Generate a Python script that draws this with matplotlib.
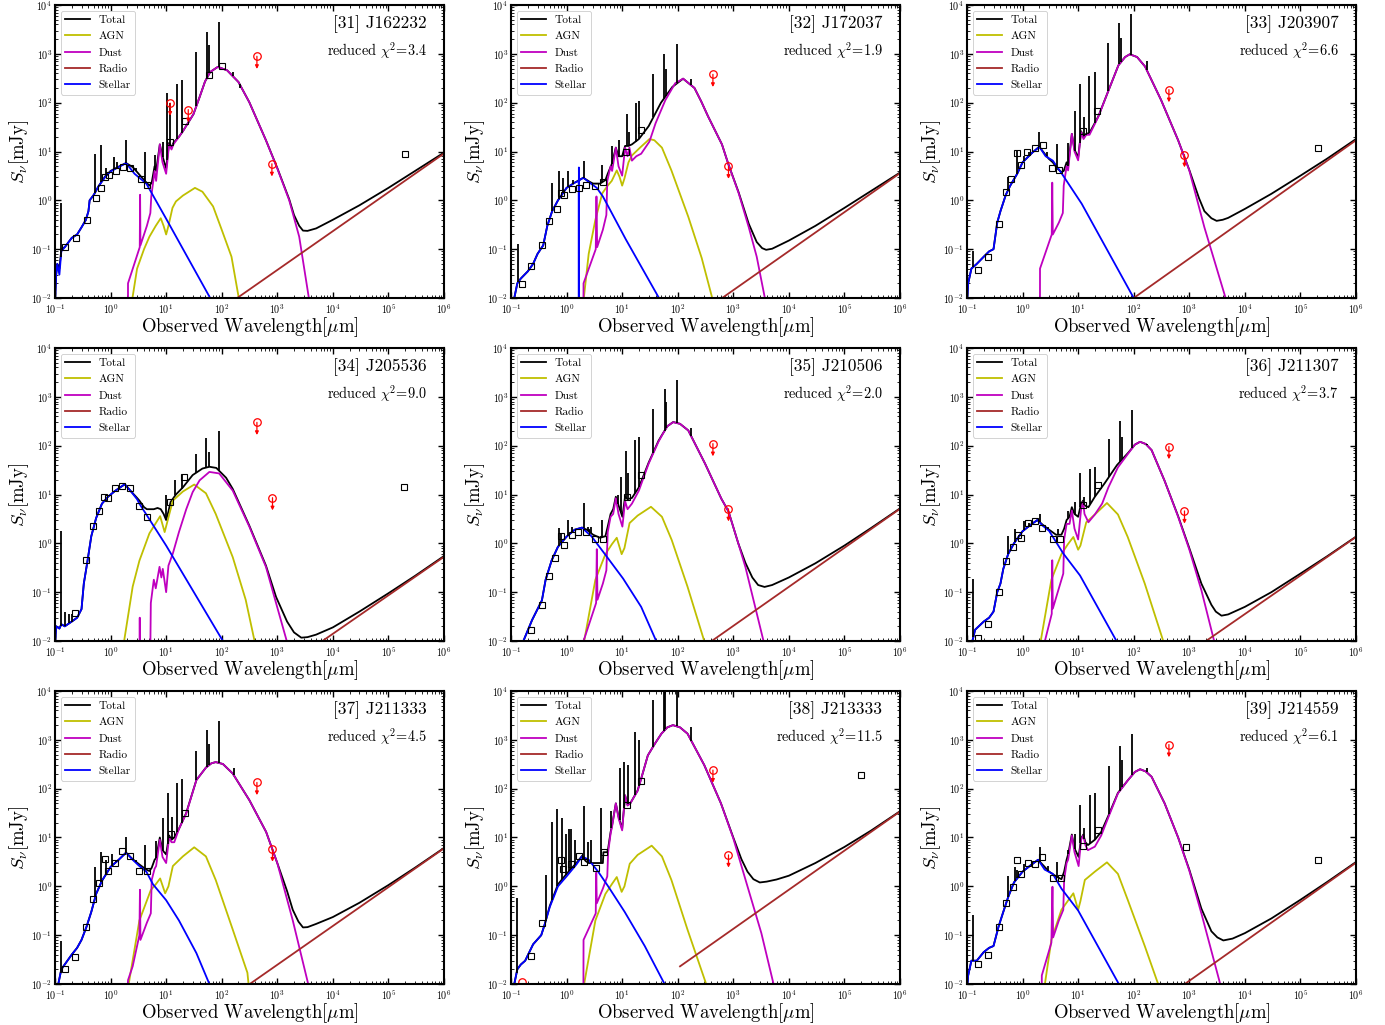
import numpy as np
import matplotlib
matplotlib.use("Agg")
import matplotlib.pyplot as plt
from matplotlib.ticker import LogLocator, NullFormatter

plt.rcParams.update({
    "font.family": "cmr10",
    "mathtext.fontset": "cm",
    "axes.unicode_minus": False,
    "axes.formatter.use_mathtext": True,
})

# ---------------------------------------------------------------------------
# SED fits: (wavelength [um], flux density [mJy]) pairs for each component
# ---------------------------------------------------------------------------
PANEL_IDS = [31, 32, 33, 34, 35, 36, 37, 38, 39]
PANEL_NAMES = ["J162232", "J172037", "J203907", "J205536", "J210506",
               "J211307", "J211333", "J213333", "J214559"]
REDUCED_CHI2 = [3.4, 1.9, 6.6, 9.0, 2.0, 3.7, 4.5, 11.5, 6.1]

# decade ticks of both axes
X_DECADES = [-1, 0, 1, 2, 3, 4, 5, 6]
Y_DECADES = [-2, -1, 0, 1, 2, 3, 4]

# --- [31] J162232 ---
J162232_TOTAL = [(0.1, 0.008), (0.105, 0.03), (0.11, 0.05), (0.12, 0.04), (0.13, 0.1), (0.15, 0.11),
                 (0.2, 0.17), (0.25, 0.2), (0.3, 0.28), (0.36, 0.4), (0.4, 0.6), (0.42, 1.0), (0.5, 1.3),
                 (0.6, 1.9), (0.8, 3.1), (1.0, 4.0), (1.4, 4.9), (1.9, 5.8), (2.5, 4.8), (3.0, 3.8),
                 (4.0, 2.6), (5.0, 2.0), (5.5, 2.3), (6.2, 5), (6.6, 4), (7.7, 14), (8.6, 8), (10, 4.5),
                 (11.3, 15), (12.5, 12), (13.5, 15), (17, 20), (20, 26), (31, 58), (40, 130), (50, 270),
                 (62, 425), (85, 540), (125, 460), (200, 265), (314, 102), (625, 17), (1000, 4.6),
                 (1640, 1.05), (2000, 0.5), (2480, 0.3), (2900, 0.24), (3500, 0.237), (5000, 0.266),
                 (1e4, 0.4), (3e4, 0.79), (1e5, 1.8), (3e5, 3.98), (1e6, 9.5)]
J162232_AGN = [(2.4, 0.008), (3, 0.04), (4, 0.1), (5, 0.18), (6.5, 0.3), (8, 0.43), (9, 0.3), (10, 0.2),
               (11, 0.3), (13, 0.7), (15, 0.95), (20, 1.25), (33, 1.8), (45, 1.5), (70, 0.75),
               (100, 0.25), (150, 0.07), (210, 0.008)]
J162232_DUST = [(2.05, 0.001), (2.06, 0.02), (3.35, 0.11), (3.4, 1.3), (3.45, 0.12), (4.5, 0.3),
                (5.2, 0.55), (5.4, 1.2), (6.2, 4), (6.6, 2.5), (7.7, 14), (8.6, 6), (10, 3.5), (11.3, 14),
                (12.5, 11), (13.5, 14), (17, 20), (20, 26), (31, 58), (40, 130), (50, 270), (62, 425),
                (85, 540), (125, 460), (200, 265), (314, 102), (625, 17), (1000, 4.5), (1640, 1.0),
                (2480, 0.18), (3700, 0.01), (4000, 0.004)]
J162232_RADIO = [(190, 0.01), (1e6, 9.1)]
J162232_STELLAR = [(0.1, 0.008), (0.105, 0.03), (0.11, 0.05), (0.12, 0.03), (0.13, 0.09), (0.15, 0.11),
                   (0.2, 0.17), (0.25, 0.2), (0.3, 0.28), (0.36, 0.4), (0.4, 0.6), (0.42, 1.0), (0.5, 1.3),
                   (0.6, 1.9), (0.8, 3.0), (1.0, 3.9), (1.4, 4.8), (1.9, 5.8), (2.7, 3.5), (4.4, 2.2),
                   (10, 0.42), (62, 0.01), (70, 0.007)]
J162232_LINES = [(0.126, 0.9), (0.52, 9.1), (0.68, 13.6), (0.83, 4.5), (1.13, 7.8), (1.3, 6.0), (1.9, 17),
                 (2.9, 4.5), (4.1, 10), (6.4, 8.5), (8.7, 16), (10.4, 158), (11.8, 100), (15.8, 245),
                 (19, 290), (35, 1090), (54, 2800), (60, 1500), (90, 4500), (160, 420), (210, 200)]
J162232_PHOT = [(0.15, 0.11), (0.235, 0.17), (0.37, 0.4), (0.55, 1.1), (0.66, 1.8), (0.8, 3.0),
                (0.92, 3.3), (1.25, 4.0), (1.65, 4.8), (2.2, 4.7), (3.5, 2.7), (4.5, 2.1), (11.8, 15.7),
                (22.3, 42), (58, 374), (100, 555), (2.0e5, 9.0)]
J162232_ULIM = [(11.8, 98), (25, 72), (430, 890), (800, 5.6)]

# --- [32] J172037 ---
J172037_TOTAL = [(0.11, 0.008), (0.13, 0.02), (0.15, 0.025), (0.2, 0.035), (0.25, 0.05), (0.3, 0.08),
                 (0.38, 0.12), (0.45, 0.3), (0.55, 0.6), (0.7, 1.0), (1.0, 1.8), (1.4, 2.3), (2.0, 2.9),
                 (2.6, 2.4), (3.0, 2.2), (4.0, 2.2), (5.0, 2.6), (5.5, 3.5), (6.5, 5.5), (7.7, 12),
                 (8.6, 8), (10, 8), (11.3, 13), (13, 13), (15, 14), (20, 18), (30, 33), (50, 100),
                 (80, 210), (125, 310), (200, 200), (266, 105), (350, 53), (625, 14), (820, 5.4),
                 (1250, 1.45), (1900, 0.33), (2640, 0.14), (3300, 0.105), (3900, 0.097), (5000, 0.102),
                 (1e4, 0.15), (3e4, 0.3), (1e5, 0.7), (3e5, 1.55), (1e6, 3.7)]
J172037_AGN = [(2.0, 0.008), (2.5, 0.08), (3.3, 0.4), (4.4, 1.4), (5.5, 2.0), (6.5, 2.5), (8.0, 4.1),
               (9, 3.0), (10, 2.0), (11, 2.8), (13, 6), (15, 8.3), (21, 12), (31, 18), (38, 17),
               (52, 12), (77, 4.1), (155, 0.46), (270, 0.066), (440, 0.008)]
J172037_DUST = [(2.0, 0.001), (2.02, 0.02), (3.35, 0.1), (3.45, 1.2), (3.55, 0.11), (4.5, 0.25),
                (5.2, 0.5), (5.4, 2.5), (6.2, 5), (6.6, 4), (7.7, 12), (8.6, 5), (10, 3.2), (11.3, 12),
                (12.5, 8), (13.5, 12), (15, 6.5), (18, 8), (22, 9), (31, 16), (40, 38), (60, 113),
                (90, 250), (125, 310), (200, 200), (266, 105), (350, 53), (625, 14), (820, 5.4),
                (1250, 1.4), (1900, 0.28), (2640, 0.07), (3700, 0.01), (4200, 0.004)]
J172037_RADIO = [(630, 0.01), (1e6, 3.6)]
J172037_STELLAR = [(0.11, 0.008), (0.13, 0.02), (0.15, 0.025), (0.2, 0.035), (0.25, 0.05), (0.3, 0.08),
                   (0.38, 0.12), (0.45, 0.3), (0.55, 0.6), (0.7, 1.0), (1.0, 1.8), (1.4, 2.3),
                   (1.655, 2.5), (1.66, 0.001), (1.665, 4.7), (1.67, 2.55), (2.0, 2.9), (2.6, 2.3),
                   (3.5, 1.8), (4.5, 1.2), (5.7, 0.73), (11.6, 0.16), (46, 0.01), (50, 0.008)]
J172037_LINES = [(0.135, 0.13), (0.55, 2.3), (0.73, 4.0), (0.87, 2.8), (1.04, 4.0), (1.3, 2.6), (2.1, 6.5),
                 (4.4, 5.2), (6.5, 13), (8.7, 17), (12, 60), (13.2, 25), (17.5, 97), (20, 110),
                 (36.5, 380), (57, 1000), (61, 490), (98, 1600), (170, 310)]
J172037_PHOT = [(0.155, 0.019), (0.23, 0.046), (0.355, 0.12), (0.49, 0.37), (0.66, 0.68), (0.79, 1.43),
                (0.9, 1.3), (1.27, 1.73), (1.65, 1.8), (2.2, 2.1), (3.3, 2.0), (4.5, 2.4), (11.8, 10),
                (21.5, 27)]
J172037_ULIM = [(430, 380), (820, 5.0)]

# --- [33] J203907 ---
J203907_TOTAL = [(0.1, 0.008), (0.105, 0.02), (0.12, 0.04), (0.15, 0.05), (0.2, 0.07), (0.25, 0.09),
                 (0.3, 0.1), (0.35, 0.35), (0.4, 0.6), (0.5, 1.3), (0.6, 2.0), (0.8, 3.5), (1.0, 6.0),
                 (1.5, 9.5), (2.0, 12.5), (2.6, 8.5), (3.0, 7), (3.5, 6), (4.2, 4.5), (5.0, 3.8),
                 (5.5, 4.0), (6.2, 6), (6.6, 5), (7.7, 23), (8.6, 11), (10, 7.5), (11.3, 26), (12.5, 20),
                 (14, 23), (16, 24), (23, 52), (35, 175), (53, 580), (70, 860), (85, 980), (115, 860),
                 (160, 550), (310, 114), (630, 17), (1000, 4.2), (1500, 1.1), (1870, 0.6), (2500, 0.43),
                 (3100, 0.38), (4000, 0.4), (5000, 0.437), (1e4, 0.667), (3e4, 1.36), (1e5, 3.2),
                 (3e5, 7.1), (1e6, 18)]
J203907_AGN = []
J203907_DUST = [(2.05, 0.001), (2.06, 0.04), (3.35, 0.2), (3.42, 2.3), (3.5, 0.2), (4.5, 0.35),
                (5.3, 0.55), (5.5, 2.0), (6.2, 5), (6.6, 4.1), (7.7, 23), (8.6, 10), (10, 6.6), (11.3, 25),
                (12.5, 18), (14, 22), (16, 22), (23, 51), (35, 175), (53, 580), (70, 860), (85, 980),
                (115, 860), (160, 550), (310, 114), (630, 17), (1000, 4.1), (1870, 0.28), (4500, 0.01),
                (5000, 0.004)]
J203907_RADIO = [(100, 0.01), (1e6, 17)]
J203907_STELLAR = [(0.1, 0.008), (0.105, 0.02), (0.12, 0.04), (0.15, 0.05), (0.2, 0.07), (0.25, 0.09),
                   (0.3, 0.1), (0.35, 0.35), (0.4, 0.6), (0.5, 1.3), (0.6, 2.0), (0.8, 3.5), (1.0, 6.0),
                   (1.5, 9.5), (2.0, 12.5), (2.6, 8), (3.5, 6.5), (5.1, 3.5), (11.6, 0.85), (100, 0.01),
                   (110, 0.008)]
J203907_LINES = [(0.13, 0.09), (0.54, 3), (0.8, 10.5), (1.04, 8), (1.3, 10), (1.95, 25), (2.7, 10),
                 (4.2, 14.5), (6.6, 15), (8.8, 67), (10.7, 240), (13, 52), (16, 360), (20, 420),
                 (35, 1650), (55, 4200), (60, 2100), (90, 6400), (170, 700)]
J203907_PHOT = [(0.16, 0.037), (0.24, 0.068), (0.37, 0.32), (0.5, 1.5), (0.63, 2.7), (0.79, 9.3),
                (0.93, 5.3), (1.2, 10), (1.66, 12), (2.3, 13.5), (3.4, 4.6), (4.6, 4.1), (12.2, 26),
                (22, 67), (2.1e5, 12)]
J203907_ULIM = [(430, 185), (820, 8.6)]

# --- [34] J205536 ---
J205536_TOTAL = [(0.1, 0.008), (0.105, 0.02), (0.12, 0.018), (0.13, 0.022), (0.15, 0.02), (0.2, 0.025),
                 (0.25, 0.03), (0.3, 0.045), (0.33, 0.15), (0.38, 0.4), (0.45, 1.4), (0.55, 3.3),
                 (0.7, 6.5), (0.9, 9), (1.2, 11.8), (1.8, 16.2), (2.2, 12.5), (3.0, 8.5), (3.3, 7.5),
                 (4, 5.5), (4.5, 5.0), (6, 5.0), (7, 5.3), (8, 5.0), (9, 4.0), (10, 3.0), (11, 4.5),
                 (12, 7), (15, 10), (20, 14), (30, 25), (45, 34), (60, 37), (80, 35), (120, 22),
                 (158, 13), (314, 2.3), (625, 0.35), (950, 0.08), (1500, 0.025), (2000, 0.015),
                 (2700, 0.0117), (3500, 0.012), (5000, 0.0135), (1e4, 0.019), (3e4, 0.04), (1e5, 0.095),
                 (3e5, 0.215), (1e6, 0.55)]
J205536_AGN = [(1.7, 0.008), (2.5, 0.13), (3.3, 0.44), (5, 1.6), (7.8, 3.6), (9.4, 1.7), (13.2, 7.5),
               (20, 11.5), (32, 16), (52, 10.6), (78, 4.0), (158, 0.52), (270, 0.07), (390, 0.01),
               (420, 0.007)]
J205536_DUST = [(3.3, 0.001), (3.35, 0.03), (3.4, 0.001), (5.1, 0.001), (5.3, 0.06), (6.0, 0.18),
                (6.5, 0.12), (7.6, 0.33), (8.2, 0.2), (8.7, 0.3), (10, 0.1), (11, 0.35), (13.2, 0.62),
                (17, 1.7), (23, 5.0), (30, 11.2), (40, 19.5), (60, 29), (90, 27), (158, 12), (314, 2.2),
                (625, 0.33), (950, 0.06), (1480, 0.01), (1600, 0.007)]
J205536_RADIO = [(6500, 0.01), (1e6, 0.53)]
J205536_STELLAR = [(0.1, 0.008), (0.105, 0.02), (0.12, 0.018), (0.13, 0.022), (0.15, 0.02), (0.2, 0.025),
                   (0.25, 0.03), (0.3, 0.045), (0.33, 0.15), (0.38, 0.4), (0.45, 1.4), (0.55, 3.3),
                   (0.7, 6.5), (0.9, 9), (1.2, 11.8), (1.8, 16.2), (2.2, 12.5), (3.0, 8), (3.3, 6.5),
                   (10, 0.9), (105, 0.01), (115, 0.008)]
J205536_LINES = [(0.126, 1.8), (0.15, 0.04), (0.18, 0.035), (0.2, 0.035), (10, 9.6), (14.6, 19.5),
                 (19, 25), (34, 68), (52, 142), (58, 74), (88, 200)]
J205536_PHOT = [(0.225, 0.038), (0.355, 0.45), (0.49, 2.26), (0.62, 4.6), (0.75, 8.9), (0.9, 8.3),
                (1.21, 13.8), (1.62, 15.2), (2.2, 13.8), (3.3, 5.8), (4.5, 3.4), (11.8, 6.9), (21, 23),
                (1.9e5, 14)]
J205536_ULIM = [(430, 300), (820, 8.6)]

# --- [35] J210506 ---
J210506_TOTAL = [(0.16, 0.008), (0.167, 0.01), (0.24, 0.027), (0.36, 0.068), (0.42, 0.18), (0.54, 0.45),
                 (0.7, 0.85), (1.0, 1.37), (1.4, 1.9), (1.9, 2.1), (2.3, 1.9), (3, 1.5), (4, 1.3),
                 (5, 1.4), (5.5, 2.2), (6.2, 4), (6.9, 5), (7.7, 9), (8.6, 6), (10.1, 3.5), (11.3, 9),
                 (12.5, 8), (15, 8.5), (20, 14), (30, 45), (45, 125), (52, 165), (65, 250), (83, 305),
                 (110, 280), (155, 205), (310, 43), (610, 8.2), (820, 4.5), (1230, 1.0), (1650, 0.4),
                 (2200, 0.2), (2800, 0.14), (3650, 0.128), (5000, 0.14), (1e4, 0.2), (3e4, 0.39),
                 (1e5, 0.9), (3e5, 2.05), (1e6, 5.2)]
J210506_AGN = [(2.0, 0.008), (3.3, 0.18), (5, 0.6), (6.5, 0.95), (8.0, 1.3), (9.8, 0.6), (11, 0.8),
               (13.6, 2.6), (19, 3.7), (33, 5.6), (52, 3.5), (78, 1.17), (150, 0.13), (300, 0.01),
               (320, 0.007)]
J210506_DUST = [(2.0, 0.001), (2.02, 0.01), (3.4, 0.06), (3.5, 0.76), (3.6, 0.07), (4.5, 0.15),
                (5.2, 0.28), (5.5, 1.7), (6.2, 3.5), (6.9, 4.0), (7.7, 8.4), (8.6, 4), (10.1, 2.2),
                (11.3, 7.3), (12.5, 5), (15, 6.5), (20, 12), (30, 43), (45, 120), (52, 162), (65, 250),
                (83, 303), (110, 280), (155, 205), (310, 43), (610, 8.2), (820, 4.5), (1230, 1.0),
                (1650, 0.33), (3500, 0.01), (3800, 0.006)]
J210506_RADIO = [(410, 0.01), (1e6, 5.1)]
J210506_STELLAR = [(0.16, 0.008), (0.167, 0.01), (0.24, 0.027), (0.36, 0.068), (0.42, 0.18),
                   (0.54, 0.45), (0.7, 0.85), (1.0, 1.37), (1.4, 1.9), (1.9, 2.1), (2.3, 1.7), (2.8, 1.4),
                   (4.9, 0.6), (10.4, 0.19), (22, 0.05), (41, 0.01), (45, 0.008)]
J210506_LINES = [(0.72, 2.1), (0.8, 1.6), (1.05, 3.0), (1.27, 2.2), (2.05, 6.6), (2.4, 2.2), (2.8, 2.2),
                 (4.3, 3.0), (6.4, 4.1), (8.5, 9.7), (9.5, 23), (11.7, 76), (13, 28), (17, 130),
                 (20, 150), (36, 570), (58, 1450), (62, 770), (96, 2200), (175, 230)]
J210506_PHOT = [(0.23, 0.017), (0.355, 0.054), (0.49, 0.21), (0.63, 0.49), (0.79, 1.44), (0.91, 0.94),
                (1.27, 1.5), (1.6, 1.7), (2.2, 1.7), (3.3, 1.2), (4.6, 1.2), (12, 9.0), (21.6, 25)]
J210506_ULIM = [(430, 110), (820, 5.1)]

# --- [36] J211307 ---
J211307_TOTAL = [(0.12, 0.008), (0.125, 0.01), (0.14, 0.017), (0.2, 0.025), (0.25, 0.03), (0.3, 0.04),
                 (0.35, 0.1), (0.4, 0.15), (0.45, 0.3), (0.55, 0.6), (0.7, 1.0), (1.0, 1.77), (1.4, 2.4),
                 (1.85, 3.0), (2.3, 2.4), (3, 1.9), (4, 1.5), (5, 1.5), (5.6, 2.0), (6.2, 3.0), (7, 3.5),
                 (7.7, 5.5), (8.6, 4), (10, 3.5), (11.3, 6.5), (12.3, 7.5), (13, 6), (15.3, 5.5),
                 (20, 9), (30, 17), (50, 40), (80, 72), (105, 105), (130, 120), (165, 108), (210, 81),
                 (360, 19), (630, 3.6), (1000, 0.8), (1650, 0.15), (2500, 0.055), (3000, 0.04),
                 (3800, 0.033), (5000, 0.035), (1e4, 0.05), (3e4, 0.1), (1e5, 0.24), (3e5, 0.54),
                 (1e6, 1.37)]
J211307_AGN = [(2.05, 0.008), (3.3, 0.18), (5, 0.6), (6.5, 0.95), (8.2, 1.35), (10, 0.74), (11, 0.9),
               (14, 2.7), (20, 3.9), (33, 6.7), (52, 3.9), (78, 1.35), (158, 0.15), (340, 0.01),
               (360, 0.007)]
J211307_DUST = [(2.4, 0.008), (3.35, 0.036), (3.42, 0.45), (3.5, 0.046), (4.5, 0.12), (5.4, 0.24),
                (5.6, 1.2), (6.2, 2.5), (7, 2.5), (7.7, 4.7), (8.6, 2), (10, 1.2), (11.3, 5), (12.3, 7),
                (13, 4), (15.3, 2.7), (20, 3.9), (27, 6.5), (35, 14), (52, 36), (78, 67), (105, 105),
                (130, 120), (165, 108), (210, 81), (360, 19), (630, 3.5), (1000, 0.75), (1650, 0.11),
                (2800, 0.01), (3000, 0.007)]
J211307_RADIO = [(2000, 0.01), (1e6, 1.35)]
J211307_STELLAR = [(0.12, 0.008), (0.125, 0.01), (0.14, 0.017), (0.2, 0.025), (0.25, 0.03), (0.3, 0.04),
                   (0.35, 0.1), (0.4, 0.15), (0.45, 0.3), (0.55, 0.6), (0.7, 1.0), (1.0, 1.77),
                   (1.4, 2.4), (1.85, 3.0), (2.3, 2.3), (3, 1.8), (5.4, 0.62), (10.8, 0.22), (49, 0.01),
                   (53, 0.008)]
J211307_LINES = [(0.13, 0.19), (0.55, 1.4), (0.73, 2.0), (1.07, 2.8), (1.3, 2.6), (2.05, 4.0),
                 (2.9, 2.2), (4.4, 2.0), (6.6, 4.7), (8.8, 7), (11, 27), (13, 9), (16.5, 33), (20, 36),
                 (36, 140), (56, 315), (62, 150), (94, 530), (170, 110)]
J211307_PHOT = [(0.155, 0.0115), (0.236, 0.022), (0.37, 0.1), (0.5, 0.43), (0.66, 0.85), (0.82, 1.5),
                (0.95, 1.3), (1.25, 2.6), (1.68, 2.8), (2.2, 2.1), (3.5, 1.2), (4.7, 1.2), (12.3, 6.1),
                (23, 16)]
J211307_ULIM = [(430, 96), (820, 4.6)]

# --- [37] J211333 ---
J211333_TOTAL = [(0.11, 0.008), (0.13, 0.02), (0.2, 0.04), (0.25, 0.055), (0.3, 0.08), (0.37, 0.15),
                 (0.45, 0.3), (0.55, 0.7), (0.7, 1.3), (1.0, 2.5), (1.4, 3.5), (1.9, 4.9), (2.5, 3.6),
                 (3.3, 2.8), (4.4, 2.2), (5, 2.06), (5.5, 2.4), (6.2, 3.5), (6.6, 3.8), (7.7, 10),
                 (8.6, 5.5), (10, 4.5), (11.3, 11), (12.5, 9), (14, 10), (17, 15), (23, 32), (35, 150),
                 (52, 270), (65, 330), (78, 350), (105, 320), (158, 204), (315, 58), (630, 13),
                 (1000, 3.0), (1500, 0.8), (1900, 0.33), (2400, 0.19), (2900, 0.144), (3500, 0.146),
                 (5000, 0.17), (1e4, 0.235), (3e4, 0.46), (1e5, 1.06), (3e5, 2.4), (1e6, 6.1)]
J211333_AGN = [(2.05, 0.008), (3.3, 0.2), (5.3, 0.84), (6.5, 1.1), (7.8, 1.45), (9.6, 0.72), (11, 1.0),
               (13.2, 2.6), (20, 4.1), (32, 6.3), (52, 4.1), (78, 1.35), (158, 0.13), (290, 0.017),
               (310, 0.008)]
J211333_DUST = [(2.05, 0.001), (2.06, 0.012), (2.5, 0.023), (3.3, 0.1), (3.38, 0.85), (3.45, 0.08),
                (4.5, 0.18), (5.3, 0.28), (5.5, 1.35), (6.2, 2.3), (6.6, 2.6), (7.7, 9), (8.6, 4),
                (10, 3), (11.3, 10), (12.5, 8), (14, 8), (17, 15), (23, 31), (35, 150), (52, 270),
                (65, 330), (78, 350), (105, 320), (158, 204), (315, 58), (630, 13), (1000, 3.0),
                (1900, 0.2), (3600, 0.01), (3900, 0.006)]
J211333_RADIO = [(320, 0.01), (1e6, 6.0)]
J211333_STELLAR = [(0.11, 0.008), (0.13, 0.02), (0.2, 0.04), (0.25, 0.055), (0.3, 0.08), (0.37, 0.15),
                   (0.45, 0.3), (0.55, 0.7), (0.7, 1.3), (1.0, 2.5), (1.4, 3.5), (1.9, 4.9), (2.5, 3.5),
                   (3.3, 2.6), (4.4, 2.0), (5.8, 1.1), (10, 0.52), (17, 0.2), (35, 0.043), (60, 0.01),
                   (65, 0.008)]
J211333_LINES = [(0.126, 0.075), (0.53, 2.5), (0.68, 5), (0.84, 3.5), (1.04, 4.5), (1.27, 3.5), (1.9, 10),
                 (2.9, 3.5), (4.2, 7), (6.6, 8.3), (8.8, 25), (10.7, 83), (12.8, 26), (16, 130),
                 (19, 160), (35, 600), (54, 1600), (60, 840), (90, 2400), (165, 260)]
J211333_PHOT = [(0.153, 0.02), (0.225, 0.036), (0.355, 0.15), (0.49, 0.55), (0.63, 1.15), (0.78, 3.6),
                (0.9, 2.1), (1.2, 3.0), (1.6, 5.3), (2.2, 4.2), (3.3, 2.1), (4.5, 2.1), (12, 11.9),
                (21.6, 32)]
J211333_ULIM = [(430, 134), (820, 5.8)]

# --- [38] J213333 ---
J213333_TOTAL = [(0.11, 0.008), (0.13, 0.02), (0.15, 0.025), (0.18, 0.03), (0.25, 0.065), (0.35, 0.1),
                 (0.4, 0.16), (0.5, 0.4), (0.7, 1.1), (1.0, 1.8), (1.5, 3.0), (1.9, 4.2), (2.2, 3.3),
                 (2.5, 3.0), (4.5, 3.0), (4.6, 5.0), (5.4, 5.0), (5.6, 6), (6.2, 13), (6.6, 18),
                 (7.7, 50), (8.6, 27), (10, 15), (11.3, 73), (12.5, 47), (14, 50), (19, 92), (22, 160),
                 (29, 480), (39, 840), (51, 1340), (65, 1800), (82, 2000), (110, 1800), (150, 1340),
                 (300, 305), (600, 50), (1000, 10), (1400, 3.6), (1800, 2.0), (2300, 1.4), (3000, 1.2),
                 (4000, 1.25), (6000, 1.38), (1e4, 1.65), (3e4, 3.0), (1e5, 6.4), (3e5, 13.8),
                 (1e6, 34.5)]
J213333_AGN = [(2.0, 0.008), (3.3, 0.2), (5, 0.7), (6.5, 1.1), (8, 1.55), (9.8, 0.77), (11, 1.0),
               (13.7, 2.9), (19, 4.4), (34, 6.8), (52, 4.1), (77, 1.35), (150, 0.13), (325, 0.01),
               (345, 0.007)]
J213333_DUST = [(2.0, 0.001), (2.02, 0.08), (3.35, 0.28), (3.42, 1.9), (3.5, 0.45), (4.5, 0.9),
                (5.4, 1.6), (5.6, 5), (6.2, 12), (6.6, 17), (7.7, 50), (8.6, 25), (10, 14), (11.3, 73),
                (12.5, 45), (14, 50), (19, 90), (22, 160), (29, 480), (39, 840), (51, 1340), (65, 1800),
                (82, 2000), (110, 1800), (150, 1340), (300, 305), (600, 50), (1000, 9.6), (1800, 1.0),
                (3200, 0.11), (5300, 0.01), (5800, 0.006)]
J213333_RADIO = [(110, 0.023), (1e6, 34)]
J213333_STELLAR = [(0.11, 0.008), (0.13, 0.02), (0.15, 0.025), (0.18, 0.03), (0.25, 0.065), (0.35, 0.1),
                   (0.4, 0.16), (0.5, 0.38), (0.7, 1.0), (1.0, 1.6), (1.5, 2.8), (1.9, 4.1), (2.5, 3.5),
                   (3.7, 2.0), (5.6, 1.0), (11.1, 0.3), (25.5, 0.06), (58, 0.01), (62, 0.008)]
J213333_LINES = [(0.126, 0.57), (0.42, 1.7), (0.55, 21), (0.68, 39), (0.83, 25), (0.96, 12), (1.1, 15),
                 (1.2, 15), (1.4, 9), (2.05, 45), (2.4, 8), (2.8, 9), (4.2, 40), (6.4, 35), (9.0, 260),
                 (10.8, 350), (12.7, 300), (17, 1450), (20, 980), (36, 6450), (57, 20000),
                 (60, 20000), (98, 20000), (175, 1850)]
J213333_PHOT = [(0.23, 0.037), (0.355, 0.18), (0.79, 3.5), (0.88, 2.3), (1.2, 2.8), (1.65, 4.1),
                (2.1, 3.2), (3.4, 2.4), (4.7, 5.0), (12, 46), (22, 144), (2.0e5, 190)]
J213333_ULIM = [(0.155, 0.011), (430, 240), (820, 4.4)]

# --- [39] J214559 ---
J214559_TOTAL = [(0.1, 0.008), (0.105, 0.015), (0.12, 0.03), (0.15, 0.03), (0.2, 0.045), (0.25, 0.055),
                 (0.3, 0.06), (0.37, 0.15), (0.45, 0.3), (0.55, 0.6), (0.7, 1.2), (1.0, 2.0), (1.4, 2.7),
                 (1.9, 3.5), (2.5, 2.5), (3, 2.0), (4, 1.6), (5, 1.4), (5.6, 2.0), (6.2, 3.5), (6.6, 4.5),
                 (7.7, 11.5), (8.6, 6), (10.2, 4), (11.3, 9.5), (12.4, 11.5), (13.5, 8), (15, 7),
                 (20, 9), (26, 13), (35, 28), (52, 82), (79, 150), (105, 220), (130, 250), (165, 225),
                 (210, 175), (360, 50), (630, 10), (1000, 2.2), (1650, 0.35), (2500, 0.12), (3200, 0.09),
                 (4100, 0.078), (6000, 0.085), (1e4, 0.11), (3e4, 0.22), (1e5, 0.53), (3e5, 1.22),
                 (1e6, 3.15)]
J214559_AGN = [(2.45, 0.008), (3.3, 0.08), (5, 0.33), (6.5, 0.5), (8.2, 0.72), (10, 0.33), (11, 0.5),
               (13.2, 1.35), (20, 2.0), (33, 3.1), (52, 1.8), (78, 0.53), (158, 0.06), (275, 0.01),
               (290, 0.007)]
J214559_DUST = [(2.2, 0.001), (2.22, 0.015), (3.3, 0.07), (3.45, 0.98), (3.55, 0.09), (4.5, 0.2),
                (5.4, 0.33), (5.6, 1.35), (6.2, 3), (6.6, 3.5), (7.7, 11), (8.6, 5), (10.2, 2.6),
                (11.3, 9), (12.4, 11), (13.5, 7), (15, 5.5), (20, 6.5), (26, 11), (35, 26), (52, 80),
                (79, 150), (105, 220), (130, 250), (165, 225), (210, 175), (360, 50), (630, 10),
                (1000, 2.1), (1650, 0.28), (3600, 0.01), (3900, 0.006)]
J214559_RADIO = [(830, 0.01), (1e6, 3.05)]
J214559_STELLAR = [(0.1, 0.008), (0.105, 0.015), (0.12, 0.03), (0.15, 0.03), (0.2, 0.045), (0.25, 0.055),
                   (0.3, 0.06), (0.37, 0.15), (0.45, 0.3), (0.55, 0.6), (0.7, 1.2), (1.0, 2.0), (1.4, 2.7),
                   (1.9, 3.5), (2.5, 2.2), (3.5, 1.8), (5, 0.9), (10, 0.32), (54, 0.01), (58, 0.008)]
J214559_LINES = [(0.13, 0.26), (0.55, 1.6), (0.73, 2.5), (0.8, 2.2), (1.05, 2.8), (1.27, 2.5), (2.05, 6.5),
                 (2.9, 2.6), (4.2, 3.2), (6.6, 5.5), (8.8, 12), (11, 46), (13, 16), (16.5, 75), (20, 80),
                 (36, 290), (56, 750), (62, 380), (94, 1300), (170, 260)]
J214559_PHOT = [(0.157, 0.026), (0.24, 0.039), (0.37, 0.15), (0.5, 0.46), (0.66, 0.97), (0.8, 3.5),
                (0.94, 1.8), (1.25, 3.0), (1.7, 2.9), (2.2, 3.9), (3.5, 1.5), (4.9, 1.5), (12, 6.8),
                (22.5, 14), (860, 6.4), (2.1e5, 3.5)]
J214559_ULIM = [(430, 800)]

# Table of panels assembled from the named lists above
PANELS = [
    (J162232_TOTAL, J162232_AGN, J162232_DUST, J162232_RADIO, J162232_STELLAR,
     J162232_LINES, J162232_PHOT, J162232_ULIM),
    (J172037_TOTAL, J172037_AGN, J172037_DUST, J172037_RADIO, J172037_STELLAR,
     J172037_LINES, J172037_PHOT, J172037_ULIM),
    (J203907_TOTAL, J203907_AGN, J203907_DUST, J203907_RADIO, J203907_STELLAR,
     J203907_LINES, J203907_PHOT, J203907_ULIM),
    (J205536_TOTAL, J205536_AGN, J205536_DUST, J205536_RADIO, J205536_STELLAR,
     J205536_LINES, J205536_PHOT, J205536_ULIM),
    (J210506_TOTAL, J210506_AGN, J210506_DUST, J210506_RADIO, J210506_STELLAR,
     J210506_LINES, J210506_PHOT, J210506_ULIM),
    (J211307_TOTAL, J211307_AGN, J211307_DUST, J211307_RADIO, J211307_STELLAR,
     J211307_LINES, J211307_PHOT, J211307_ULIM),
    (J211333_TOTAL, J211333_AGN, J211333_DUST, J211333_RADIO, J211333_STELLAR,
     J211333_LINES, J211333_PHOT, J211333_ULIM),
    (J213333_TOTAL, J213333_AGN, J213333_DUST, J213333_RADIO, J213333_STELLAR,
     J213333_LINES, J213333_PHOT, J213333_ULIM),
    (J214559_TOTAL, J214559_AGN, J214559_DUST, J214559_RADIO, J214559_STELLAR,
     J214559_LINES, J214559_PHOT, J214559_ULIM),
]

COMPONENTS = [("Total", "k"), ("AGN", "#bfbf00"), ("Dust", "#bf00bf"),
              ("Radio", "#a52a2a"), ("Stellar", "#0000ff")]


def split(pairs):
    arr = np.asarray(pairs, dtype=float).reshape(-1, 2)
    return arr[:, 0], arr[:, 1]


# ---------------------------------------------------------------------------
W, H = 1385, 1025
fig = plt.figure(figsize=(W / 100, H / 100), dpi=100)
col_left = [55, 511, 967]
row_top = [5, 348, 691]
ax_w, ax_h = 389, 293

for i, (pid, name, chi2, panel) in enumerate(zip(PANEL_IDS, PANEL_NAMES, REDUCED_CHI2, PANELS)):
    r, c = divmod(i, 3)
    ax = fig.add_axes([col_left[c] / W, 1 - (row_top[r] + ax_h) / H, ax_w / W, ax_h / H])
    total, agn, dust, radio, stellar, lines, phot, ulim = panel

    # model components (Total first so the components sit on top)
    for (label, color), comp in zip(COMPONENTS, (total, agn, dust, radio, stellar)):
        x, y = split(comp)
        ax.plot(x, y, color=color, lw=1.3, label=label)

    # emission lines rising from the total model
    tx, ty = split(total)
    lx, ltop = split(lines)
    base = 10 ** np.interp(np.log10(lx), np.log10(tx), np.log10(ty))
    ax.vlines(lx, base, ltop, color="k", lw=1.3)

    # photometry
    px, py = split(phot)
    ax.plot(px, py, ls="none", marker="s", ms=5.0, mfc="none", mec="k", mew=0.8)

    # upper limits
    ux, uy = split(ulim)
    ax.plot(ux, uy, ls="none", marker="o", ms=5.4, mfc="none", mec="r", mew=0.9)
    for xu, yu in zip(ux, uy):
        ax.annotate("", xy=(xu, yu * 0.55), xytext=(xu, yu),
                    arrowprops=dict(arrowstyle="-|>", color="r", lw=0.9,
                                    mutation_scale=5, shrinkA=0, shrinkB=0))

    ax.set_xscale("log")
    ax.set_yscale("log")
    ax.set_xticks([10.0 ** k for k in X_DECADES])
    ax.set_yticks([10.0 ** k for k in Y_DECADES])
    ax.set_xlim(0.1, 1e6)
    ax.set_ylim(0.01, 1e4)
    ax.xaxis.set_minor_locator(LogLocator(base=10, subs=np.arange(2, 10), numticks=100))
    ax.yaxis.set_minor_locator(LogLocator(base=10, subs=np.arange(2, 10), numticks=100))
    ax.xaxis.set_minor_formatter(NullFormatter())
    ax.yaxis.set_minor_formatter(NullFormatter())
    ax.tick_params(which="both", direction="in", top=True, right=True, labelsize=7.2)
    ax.tick_params(axis="x", which="both", pad=3.5)
    ax.tick_params(axis="y", which="both", pad=2)
    ax.tick_params(which="major", length=4, width=1.0)
    ax.tick_params(which="minor", length=2, width=0.6)
    for sp in ax.spines.values():
        sp.set_linewidth(1.5)

    ax.set_xlabel(r"Observed Wavelength$[\mu$m$]$", fontsize=13.5, labelpad=-1)
    ax.set_ylabel(r"$S_{\nu}[\mathrm{mJy}]$", fontsize=13.5, labelpad=0)

    ax.text(0.955, 0.935, f"[{pid}] {name}", transform=ax.transAxes,
            ha="right", va="center", fontsize=12.5)
    ax.text(0.955, 0.845, r"reduced $\chi^2$=" + f"{chi2:.1f}", transform=ax.transAxes,
            ha="right", va="center", fontsize=10.3)

    leg = ax.legend(loc="upper left", fontsize=8.2, handlelength=2.2, labelspacing=0.55,
                    borderaxespad=0.5, handletextpad=0.7, borderpad=0.4, framealpha=1.0)
    leg.get_frame().set_linewidth(0.6)

fig.savefig("out.png", dpi=100)
